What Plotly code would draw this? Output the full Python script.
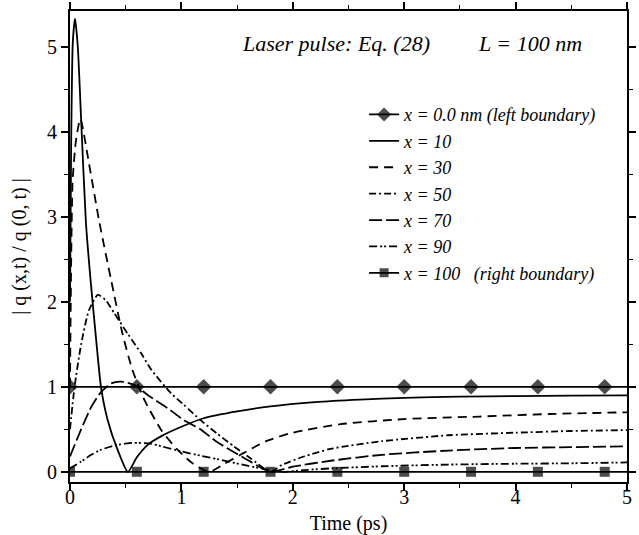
import plotly.graph_objects as go

# ---------------- data ----------------
t_marks = [0.0, 0.6, 1.2, 1.8, 2.4, 3.0, 3.6, 4.2, 4.8, 5.0]
y_left = [1, 1, 1, 1, 1, 1, 1, 1, 1, 1]
y_right = [0, 0, 0, 0, 0, 0, 0, 0, 0, 0]

t10 = [0, 0.01, 0.025, 0.045, 0.07, 0.1, 0.143, 0.185, 0.23, 0.278, 0.338, 0.427, 0.52,
       0.6, 0.7, 0.82, 1.0, 1.2, 1.5, 1.8, 2.2, 2.6, 3.0, 3.5, 4.0, 4.5, 5.0]
y10 = [2.0, 3.8, 5.05, 5.33, 5.0, 4.14, 2.93, 2.25, 1.62, 1.0, 0.61, 0.26, 0.0,
       0.17, 0.32, 0.42, 0.53, 0.63, 0.71, 0.77, 0.82, 0.85, 0.87, 0.885, 0.89, 0.895, 0.9]

t30 = [0, 0.024, 0.054, 0.093, 0.17, 0.26, 0.37, 0.47, 0.56, 0.67, 0.82, 0.965, 1.1, 1.25,
       1.38, 1.53, 1.76, 2.0, 2.43, 3.0, 3.68, 4.3, 5.0]
y30 = [1.0, 3.43, 3.9, 4.15, 3.63, 2.96, 2.25, 1.63, 1.2, 0.84, 0.49, 0.26, 0.1, 0.0,
       0.09, 0.2, 0.36, 0.46, 0.56, 0.62, 0.65, 0.68, 0.7]

t50 = [0, 0.04, 0.1, 0.17, 0.25, 0.32, 0.4, 0.52, 0.64, 0.73, 0.91, 1.02, 1.17, 1.32, 1.47,
       1.62, 1.8, 1.9, 2.1, 2.34, 2.8, 3.4, 4.0, 4.5, 5.0]
y50 = [0.5, 0.99, 1.5, 1.9, 2.08, 2.02, 1.86, 1.62, 1.39, 1.2, 0.92, 0.79, 0.61, 0.45, 0.3,
       0.16, 0.0, 0.08, 0.18, 0.27, 0.36, 0.43, 0.46, 0.48, 0.49]

t70 = [0, 0.1, 0.19, 0.28, 0.37, 0.46, 0.58, 0.7, 0.875, 1.02, 1.17, 1.32, 1.5, 1.62, 1.8,
       2.0, 2.34, 2.8, 3.4, 4.0, 4.5, 5.0]
y70 = [0.18, 0.5, 0.76, 0.94, 1.04, 1.06, 1.02, 0.9, 0.75, 0.61, 0.5, 0.35, 0.21, 0.12, 0.0,
       0.06, 0.13, 0.2, 0.25, 0.28, 0.29, 0.3]

t90 = [0, 0.1, 0.19, 0.28, 0.4, 0.56, 0.73, 0.82, 1.0, 1.17, 1.32, 1.6, 1.9, 2.1, 2.34,
       2.8, 3.4, 4.0, 4.5, 5.0]
y90 = [0.04, 0.12, 0.2, 0.26, 0.31, 0.34, 0.33, 0.3, 0.24, 0.19, 0.15, 0.07, 0.0, 0.02, 0.04,
       0.065, 0.085, 0.095, 0.1, 0.11]

x_ticks = [0, 1, 2, 3, 4, 5]
y_ticks = [0, 1, 2, 3, 4, 5]

INK = "#000000"
SERIF = "Liberation Serif, Times New Roman, serif"

fig = go.Figure()

msizes_d = [12] * (len(t_marks) - 1) + [0]
msizes_s = [10] * (len(t_marks) - 1) + [0]

fig.add_trace(go.Scatter(x=t_marks, y=y_left, mode="lines+markers",
                         name="<i>x = 0.0 nm (left boundary)</i>",
                         line=dict(color=INK, width=1.8),
                         marker=dict(symbol="diamond", size=msizes_d, color=INK,
                                     line=dict(width=0))))
fig.add_trace(go.Scatter(x=t10, y=y10, mode="lines", name="<i>x = 10</i>",
                         line=dict(color=INK, width=1.8, shape="spline", smoothing=0.6)))
fig.add_trace(go.Scatter(x=t30, y=y30, mode="lines", name="<i>x = 30</i>",
                         line=dict(color=INK, width=1.8, dash="9px,6px", shape="spline", smoothing=0.6)))
fig.add_trace(go.Scatter(x=t50, y=y50, mode="lines", name="<i>x = 50</i>",
                         line=dict(color=INK, width=1.8, dash="7px,3px,2px,3px", shape="spline", smoothing=0.6)))
fig.add_trace(go.Scatter(x=t70, y=y70, mode="lines", name="<i>x = 70</i>",
                         line=dict(color=INK, width=1.8, dash="13px,4px", shape="spline", smoothing=0.6)))
fig.add_trace(go.Scatter(x=t90, y=y90, mode="lines", name="<i>x = 90</i>",
                         line=dict(color=INK, width=1.8, dash="8px,3px,2px,2px,2px,3px", shape="spline", smoothing=0.6)))
fig.add_trace(go.Scatter(x=t_marks, y=y_right, mode="lines+markers",
                         name="<i>x = 100   (right boundary)</i>",
                         line=dict(color=INK, width=1.8),
                         marker=dict(symbol="square", size=msizes_s, color=INK,
                                     line=dict(width=0))))

axis_common = dict(
    showline=True, linecolor=INK, linewidth=2, mirror="allticks",
    ticks="outside", ticklen=7, tickwidth=1.5, tickcolor=INK,
    showgrid=False, zeroline=False, automargin=False,
    tickfont=dict(family=SERIF, size=20, color=INK),
    minor=dict(dtick=0.5, ticks="outside", ticklen=4, tickwidth=1.2, tickcolor=INK),
)

fig.update_xaxes(range=[0, 5], tickvals=x_ticks, ticklabelstandoff=-11,
                 title=dict(text="Time (ps)", font=dict(family=SERIF, size=20, color=INK)),
                 **axis_common)
fig.update_yaxes(range=[-0.12, 5.42], tickvals=y_ticks,
                 title=dict(text="| q (x,t) / q (0, t) |", font=dict(family=SERIF, size=20, color=INK)),
                 **axis_common)

fig.add_annotation(x=2.39, y=5.04, xref="x", yref="y", text="<i>Laser pulse: Eq. (28)</i>",
                   showarrow=False, font=dict(family=SERIF, size=22, color=INK))
fig.add_annotation(x=4.13, y=5.04, xref="x", yref="y", text="<i>L = 100 nm</i>",
                   showarrow=False, font=dict(family=SERIF, size=22, color=INK))

fig.update_layout(
    width=639, height=535,
    margin=dict(l=70, r=12, t=11, b=53),
    paper_bgcolor="white", plot_bgcolor="white",
    showlegend=True,
    legend=dict(x=0.528, y=0.819, xanchor="left", yanchor="top",
                bgcolor="rgba(0,0,0,0)", borderwidth=0,
                font=dict(family=SERIF, size=18, color=INK)),
    font=dict(family=SERIF, color=INK),
)

fig.write_html("out.html")
